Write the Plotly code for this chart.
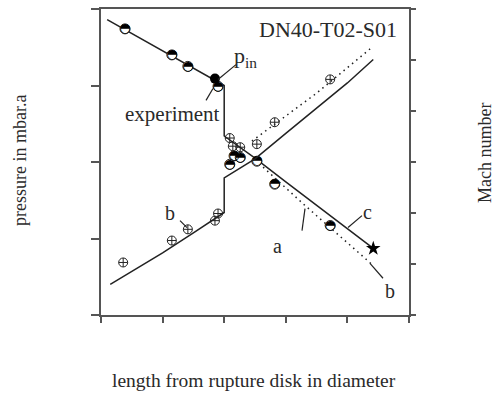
import plotly.graph_objects as go

# ---------------- data ----------------
# pressure (left axis) – solid model line with step at x = 2
p_line_x = [0.1, 0.5, 1.0, 1.5, 2.0, 2.0, 2.5, 3.0, 3.5, 4.0, 4.42]
p_line_y = [3.86, 3.68, 3.45, 3.23, 3.0, 2.34, 2.05, 1.74, 1.43, 1.13, 0.87]
# pressure dotted line (b)
p_dot_x = [2.5, 3.3, 4.4]
p_dot_y = [2.03, 1.44, 0.66]
# pressure experiment (half filled circles)
p_exp_x = [0.39, 1.15, 1.41, 1.90, 2.16, 2.26, 2.09, 2.53, 2.82, 3.72]
p_exp_y = [3.74, 3.40, 3.25, 2.99, 2.08, 2.06, 1.97, 2.01, 1.71, 1.17]
# p_in point (filled)
pin_x = [1.85]
pin_y = [3.09]
# end point (star)
star_x = [4.42]
star_y = [0.87]

# Mach number (right axis) – solid model line with step at x = 2
m_line_x = [0.15, 0.5, 1.0, 1.5, 2.0, 2.0, 2.5, 3.0, 3.5, 4.0, 4.42]
m_line_y = [0.60, 0.86, 1.22, 1.61, 2.01, 2.69, 3.06, 3.56, 4.05, 4.55, 5.01]
# Mach dotted line (b)
m_dot_x = [2.45, 3.5, 4.37]
m_dot_y = [3.41, 4.35, 5.22]
# Mach experiment (crossed circles)
m_exp_x = [0.36, 1.15, 1.41, 1.85, 1.90, 2.09, 2.14, 2.26, 2.53, 2.82, 3.72]
m_exp_y = [1.03, 1.46, 1.68, 1.85, 1.99, 3.47, 3.31, 3.29, 3.35, 3.78, 4.62]

x_ticks = [0, 1, 2, 3, 4, 5]
p_ticks = [0, 1, 2, 3, 4]
m_ticks = [0, 1, 2, 3, 4, 5, 6]

# ---------------- figure ----------------
W, H = 495, 398
L, R, T, B = 101, 409, 7, 315
TXT = "#2a2a2a"
LINE = "#222222"
FONT = "Liberation Serif"


def px(x):
    return (x - L) / (R - L)


def py(y):
    return (B - y) / (B - T)


fig = go.Figure()

fig.add_trace(go.Scatter(x=p_line_x, y=p_line_y, mode="lines",
                         line=dict(color=LINE, width=1.5), showlegend=False))
fig.add_trace(go.Scatter(x=p_dot_x, y=p_dot_y, mode="lines",
                         line=dict(color=LINE, width=1.5, dash="1.5px,4px"), showlegend=False))
fig.add_trace(go.Scatter(x=m_line_x, y=m_line_y, mode="lines", yaxis="y2",
                         line=dict(color=LINE, width=1.5), showlegend=False))
fig.add_trace(go.Scatter(x=m_dot_x, y=m_dot_y, mode="lines", yaxis="y2",
                         line=dict(color=LINE, width=1.5, dash="1.5px,4px"), showlegend=False))

fig.add_trace(go.Scatter(x=m_exp_x, y=m_exp_y, mode="markers", yaxis="y2",
                         marker=dict(symbol="circle-cross-open", size=9,
                                     color=LINE, line=dict(color=LINE, width=1)),
                         showlegend=False))
fig.add_trace(go.Scatter(x=p_exp_x, y=p_exp_y, mode="markers",
                         marker=dict(symbol="circle", size=10, color="white",
                                     line=dict(color=LINE, width=1)),
                         showlegend=False))
fig.add_trace(go.Scatter(x=p_exp_x, y=p_exp_y, mode="text", text=["◓"] * len(p_exp_x),
                         textposition="middle center",
                         textfont=dict(family="DejaVu Sans", size=13, color="black"),
                         showlegend=False))
fig.add_trace(go.Scatter(x=pin_x, y=pin_y, mode="markers",
                         marker=dict(symbol="circle", size=10, color="black"),
                         showlegend=False))
fig.add_trace(go.Scatter(x=star_x, y=star_y, mode="markers",
                         marker=dict(symbol="star", size=11, color="black"),
                         showlegend=False))

axis_common = dict(showgrid=False, zeroline=False, showticklabels=False,
                   showline=True, linecolor="#555555", linewidth=2,
                   ticks="outside", tickcolor="#555555", tickwidth=1.5)

fig.update_layout(
    width=W, height=H,
    margin=dict(l=L, r=W - R, t=T, b=H - B),
    paper_bgcolor="white", plot_bgcolor="white",
    xaxis=dict(range=[0, 5], tickvals=x_ticks, ticklen=6, mirror=True, **axis_common),
    yaxis=dict(range=[0, 4], tickvals=p_ticks, ticklen=8, **axis_common),
    yaxis2=dict(range=[0, 6], tickvals=m_ticks, ticklen=5, overlaying="y",
                side="right", **axis_common),
    font=dict(family=FONT, color=TXT),
)

annots = [
    ("DN40-T02-S01", 328, 28, 22, 0, "center"),
    ("p<sub>in</sub>", 232, 55, 22, 0, "left"),
    ("experiment", 172, 113, 21, 0, "center"),
    ("b", 170, 212, 20, 0, "center"),
    ("c", 367, 211, 20, 0, "center"),
    ("a", 277, 246, 20, 0, "center"),
    ("b", 390, 291, 20, 0, "center"),
    ("pressure in mbar.a", 20, 160, 18, -90, "center"),
    ("Mach number", 485, 152, 18, -90, "center"),
    ("length from rupture disk in diameter", 254, 381, 19.5, 0, "center"),
]
for text, x, y, size, ang, xa in annots:
    fig.add_annotation(text=text, x=px(x), y=py(y), xref="paper", yref="paper",
                       showarrow=False, textangle=ang, xanchor=xa, yanchor="middle",
                       font=dict(family=FONT, size=size, color=TXT))

leaders = [
    (218, 78, 236, 63),
    (206, 99, 213, 87),
    (180, 220, 187, 227),
    (348, 227, 362, 215),
    (302, 230, 305, 208),
    (370, 263, 383, 278),
]
for x0, y0, x1, y1 in leaders:
    fig.add_shape(type="line", xref="paper", yref="paper",
                  x0=px(x0), y0=py(y0), x1=px(x1), y1=py(y1),
                  line=dict(color=LINE, width=1.2))

fig.write_html("out.html", config={"displayModeBar": False},
               post_script="document.body.style.margin='0';")
